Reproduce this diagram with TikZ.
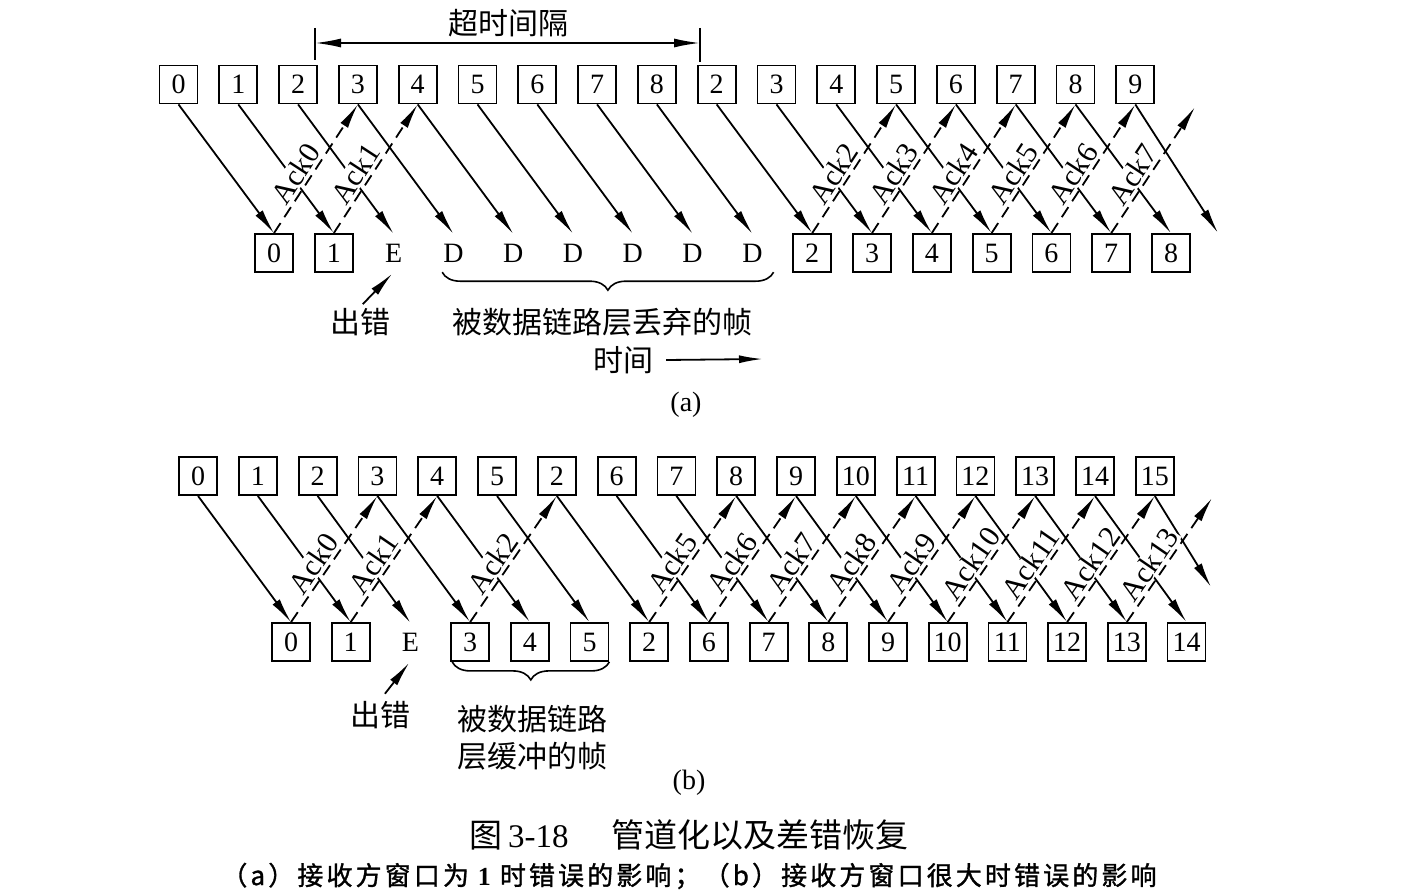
\documentclass[tikz,border=0pt]{standalone}
\usepackage{fontspec}
\setmainfont{Liberation Serif}
\newfontfamily\cjk{Noto Sans CJK SC}
\newfontfamily\cjkwide[LetterSpace=12, FakeBold=1.2]{Noto Sans CJK SC}
\usetikzlibrary{arrows.meta, decorations.pathreplacing}
\newcommand\numfont{\fontsize{28}{32}\selectfont}
\newcommand\ackfont{\fontsize{30}{34}\selectfont}
\newcommand\hanfont{\cjk\fontsize{30}{37}\selectfont}

\begin{document}
\begin{tikzpicture}[x=1pt, y=-1pt,
    seqbox/.style={draw, line width=1.8pt, minimum width=38pt, minimum height=38pt, inner sep=0pt, font=\numfont},
    seqbare/.style={minimum width=38pt, minimum height=38pt, inner sep=0pt, font=\numfont},
    data/.style={-{Latex[length=25pt, width=9pt]}, line width=1.8pt},
    ack/.style={data, dash pattern=on 12pt off 7pt},
    acklbl/.style={sloped, above=2pt, pos=0.4, fill=white, inner sep=1pt, font=\ackfont},
    han/.style={font=\hanfont, inner sep=1pt}]
    \useasboundingbox [fill=white] (0,0) rectangle (1402,896);

    % (a) Timeout
    \coordinate (tol) at (315,43);
    \coordinate (tor) at (700,43);
    \draw [line width=1.8pt] ([yshift=15pt]tol) -- ([yshift=-17pt]tol);
    \draw [line width=1.8pt] ([yshift=15pt]tor) -- ([yshift=-19pt]tor);
    \draw [{Latex[length=26pt, width=9pt]}-{Latex[length=26pt, width=9pt]}, line width=1.8pt] (tol) -- (tor);
    \node [han] (tolbl) at (508,23) {超时间隔};

    % (a) Frames
    \foreach \lab [count=\k from 0] in {0,1,2,3,4,5,6,7,8,2,3,4,5,6,7,8,9}
        \node [seqbox] (ta\k) at (178.5+59.8*\k, 84.5) {\lab};
    \foreach \lab/\sty [count=\k from 0] in {0/seqbox, 1/seqbox, E/seqbare, D/seqbare, D/seqbare, D/seqbare,
            D/seqbare, D/seqbare, D/seqbare, 2/seqbox, 3/seqbox, 4/seqbox, 5/seqbox, 6/seqbox, 7/seqbox, 8/seqbox}
        \node [\sty] (ra\k) at (274+59.8*\k, 253) {\lab};
    \coordinate (fa) at (1218,233);
    \coordinate (fb) at (1195,107);

    % (a) Data and acks
    \foreach \k in {0,...,15}
        \draw [data] (ta\k.south) -- (ra\k.north);
    \draw [data] (ta16.south) -- (fa);
    \foreach \s/\t/\n in {0/3/0, 1/4/1, 9/12/2, 10/13/3, 11/14/4, 12/15/5, 13/16/6}
        \draw [ack] (ra\s.north) -- node [acklbl] {Ack\n} (ta\t.south);
    \draw [ack] (ra14.north) -- node [acklbl] {Ack7} (fb);

    % (a) Labels
    \node [han] (erra) at (360,322) {出错};
    \draw [data, shorten <=4pt, shorten >=2pt] (erra.north) -- (ra2.south);
    \draw [decorate, decoration={brace, mirror, amplitude=18pt}, line width=1.6pt]
        ([xshift=8pt]ra3.south west) -- ([xshift=2pt]ra8.south east);
    \node [han] (dropa) at (602,322) {被数据链路层丢弃的帧};
    \node [han] (tim) at (623,360) {时间};
    \coordinate (timend) at (763,359);
    \draw [-{Latex[length=24pt, width=8pt]}, line width=1.8pt] ([xshift=12pt]tim.east) -- (timend);
    \node [font=\numfont] (capa) at (686,405) {(a)};

    % (b) Frames
    \foreach \lab [count=\k from 0] in {0,1,2,3,4,5,2,6,7,8,9,10,11,12,13,14,15}
        \node [seqbox] (tb\k) at (198+59.8*\k, 476) {\lab};
    \foreach \lab/\sty [count=\k from 0] in {0/seqbox, 1/seqbox, E/seqbare, 3/seqbox, 4/seqbox, 5/seqbox, 2/seqbox,
            6/seqbox, 7/seqbox, 8/seqbox, 9/seqbox, 10/seqbox, 11/seqbox, 12/seqbox, 13/seqbox, 14/seqbox}
        \node [\sty] (rb\k) at (291+59.7*\k, 642) {\lab};
    \coordinate (fc) at (1211,587);
    \coordinate (fd) at (1212,498);

    % (b) Data and acks
    \foreach \k in {0,...,15}
        \draw [data] (tb\k.south) -- (rb\k.north);
    \draw [data] (tb16.south) -- (fc);
    \foreach \s/\t/\n in {0/3/0, 1/4/1, 3/6/2, 6/9/5, 7/10/6, 8/11/7, 9/12/8, 10/13/9, 11/14/10, 12/15/11, 13/16/12}
        \draw [ack] (rb\s.north) -- node [acklbl] {Ack\n} (tb\t.south);
    \draw [ack] (rb14.north) -- node [acklbl] {Ack13} (fd);

    % (b) Labels
    \node [han] (errb) at (380,715) {出错};
    \draw [data, shorten <=8pt, shorten >=2pt] (errb.north) -- (rb2.south);
    \draw [decorate, decoration={brace, mirror, amplitude=18pt}, line width=1.6pt]
        ([xshift=2pt]rb3.south west) -- (rb5.south east);
    \node [han, align=left] (bufb) at (532,738) {被数据链路\\层缓冲的帧};
    \node [font=\numfont] (capb) at (689,783) {(b)};

    % Caption
    \node [font=\cjk\fontsize{33}{36}\selectfont] (cap) at (689,835)
        {图\,{\rmfamily 3-18}\hspace{1.3em}管道化以及差错恢复};
    \node [font=\cjkwide\fontsize{26}{30}\selectfont] (subcap) at (689,876)
        {（a）接收方窗口为 {\rmfamily\bfseries 1} 时错误的影响；（b）接收方窗口很大时错误的影响};
\end{tikzpicture}
\end{document}
